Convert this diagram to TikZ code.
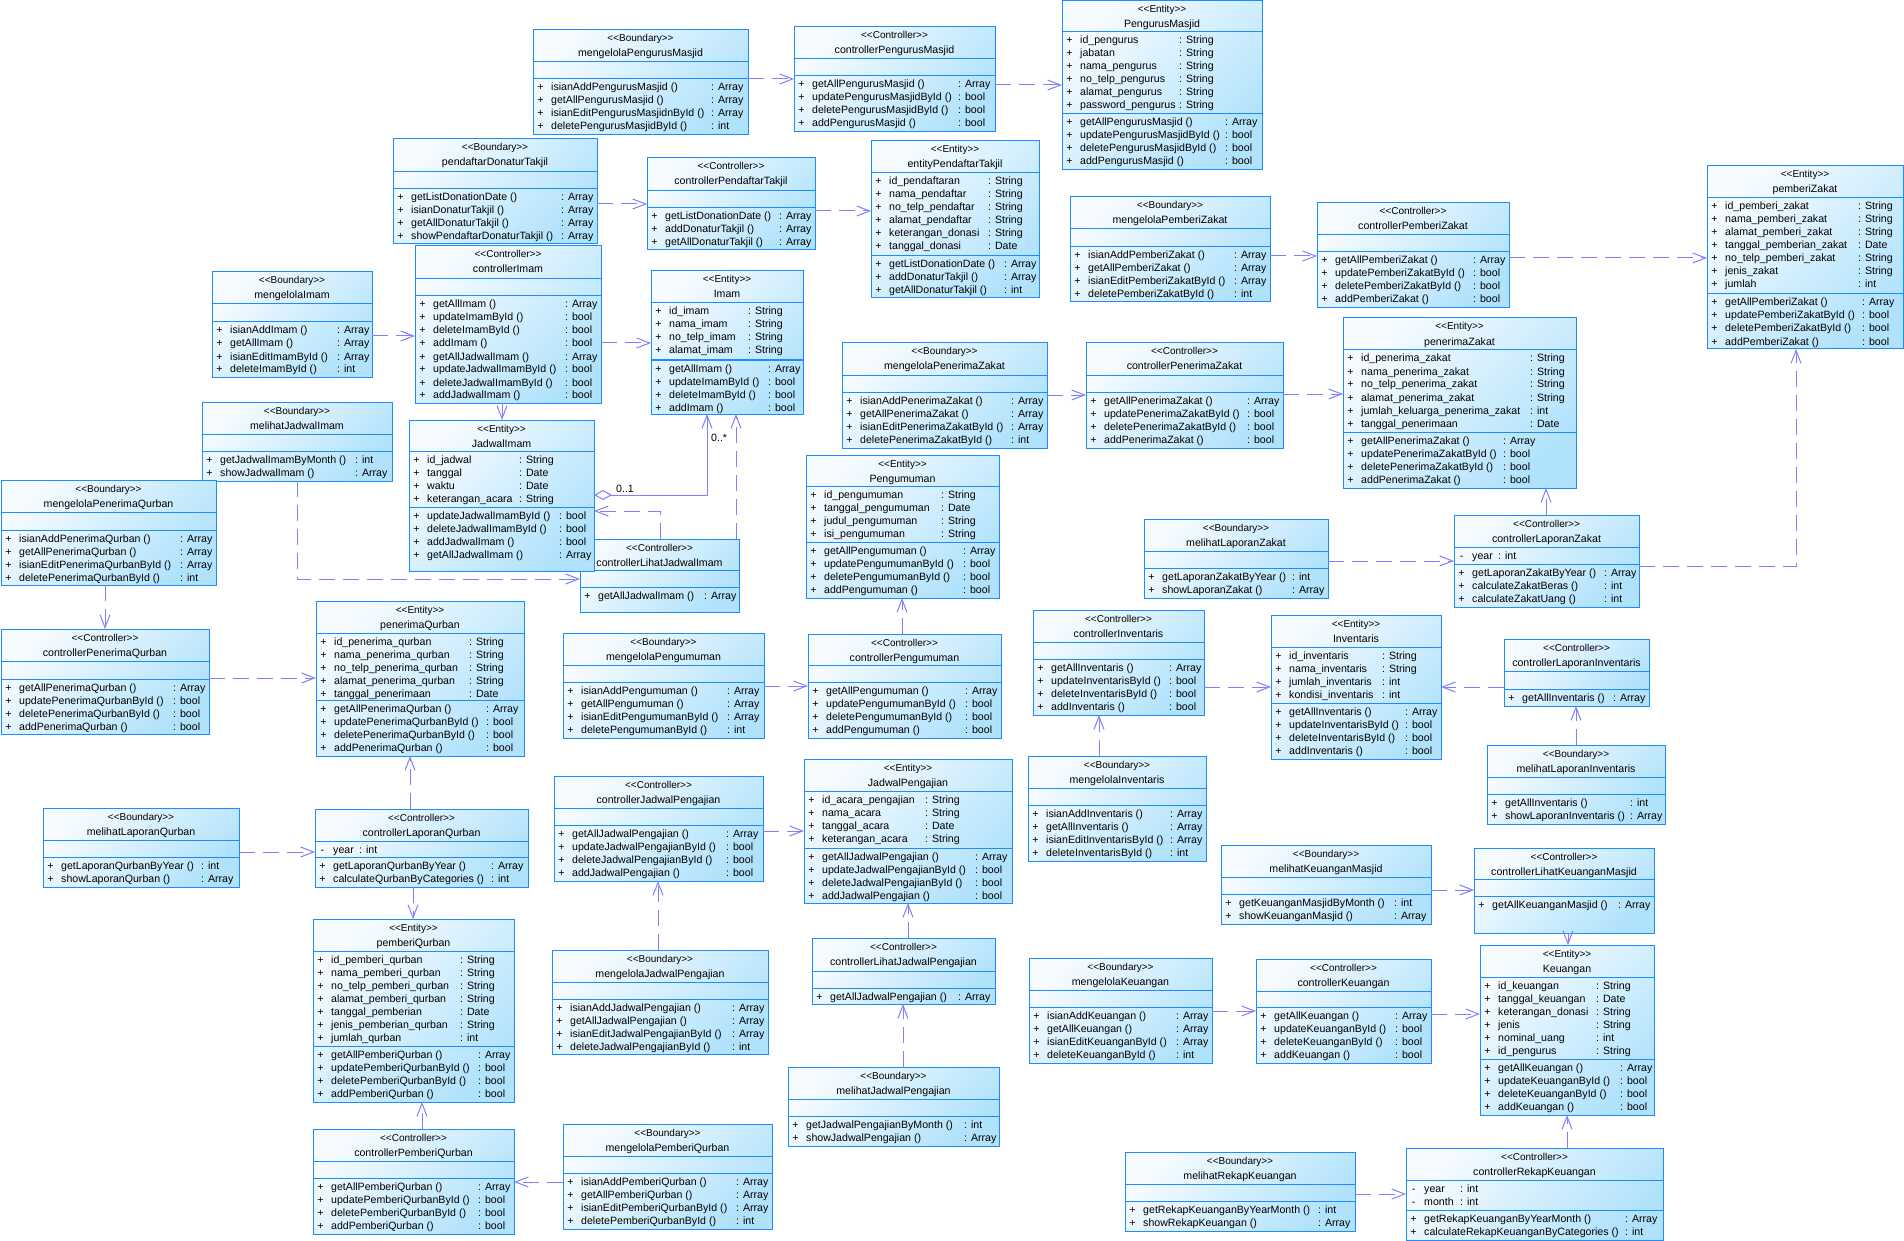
\documentclass[tikz,border=0pt]{standalone}
\usepackage{fontspec}
\setmainfont{Liberation Sans}
\usetikzlibrary{arrows.meta}
\definecolor{boxblue}{RGB}{28,140,255}
\definecolor{fillA}{RGB}{246,251,255}
\definecolor{fillB}{RGB}{176,226,252}
\definecolor{conn}{RGB}{128,128,255}
\tikzset{
 cls/.style={draw=boxblue, line width=1pt, top color=fillA, bottom color=fillB, shading angle=45, inner sep=0pt, outer sep=0pt},
 clssep/.style={draw=boxblue, line width=1pt},
 stereo/.style={font=\fontsize{10}{11}\selectfont, inner sep=0pt, anchor=base},
 cname/.style={font=\fontsize{10.6}{12}\selectfont, inner sep=0pt, anchor=base},
 mem/.style={font=\fontsize{10.6}{12}\selectfont, inner sep=0pt},
 dep/.style={draw=conn, line width=1pt, dash pattern=on 16pt off 8pt, -{Straight Barb[length=13pt,width=10pt]}},
 assoc/.style={draw=conn, line width=1pt, {Diamond[open,fill=white,length=18pt,width=10pt]}-{Straight Barb[length=13pt,width=10pt]}},
}
\newcommand\cbox[9]{%
 \node[cls, anchor=north west, minimum width={(#4)-(#2)}, minimum height={(#5)-(#3)}] (#1) at (#2,#3) {};
 \draw[clssep] (#2,#6) -- (#4,#6);
 \draw[clssep] (#2,#7) -- (#4,#7);
 \node[stereo] (#1-s) at ({((#2)+(#4))/2},{(#3)+12}) {<{}<#8>{}>};
 \node[cname] (#1-n) at ({((#2)+(#4))/2},{(#3)+27}) {#9};
}
\newcommand\rws[6][+]{%
 \foreach \nm/\ty [count=\i from 0] in {#6} {
   \node[mem, anchor=base] (#2\i v) at ({(#3)+7.5},{(#5)+12+13*\i}) {#1};
   \node[mem, anchor=base west] (#2\i n) at ({(#3)+18},{(#5)+12+13*\i}) {\nm};
   \node[mem, anchor=base west] (#2\i t) at (#4,{(#5)+12+13*\i}) {: \ty};
 }
}
\begin{document}
\catcode`\_=12
\begin{tikzpicture}[x=1pt,y=-1pt]
\fill[white] (0,0) rectangle (1904,1241);
\useasboundingbox (0,0) rectangle (1904,1241);

\cbox{bPM}{533}{30}{748}{135}{62}{79}{Boundary}{mengelolaPengurusMasjid}
\rws{bPMm}{533}{711}{79}{isianAddPengurusMasjid ()/Array, getAllPengurusMasjid ()/Array, isianEditPengurusMasjidnById ()/Array, deletePengurusMasjidById ()/int}

\cbox{cPM}{794}{27}{995}{132}{59}{76}{Controller}{controllerPengurusMasjid}
\rws{cPMm}{794}{958}{76}{getAllPengurusMasjid ()/Array, updatePengurusMasjidById ()/bool, deletePengurusMasjidById ()/bool, addPengurusMasjid ()/bool}

\cbox{ePM}{1062}{0.5}{1262}{170}{32}{114}{Entity}{PengurusMasjid}
\rws{ePMa}{1062}{1179}{32}{id_pengurus/String, jabatan/String, nama_pengurus/String, no_telp_pengurus/String, alamat_pengurus/String, password_pengurus/String}
\rws{ePMm}{1062}{1225}{114}{getAllPengurusMasjid ()/Array, updatePengurusMasjidById ()/bool, deletePengurusMasjidById ()/bool, addPengurusMasjid ()/bool}

\cbox{bPDT}{393}{139}{597}{244}{172}{189}{Boundary}{pendaftarDonaturTakjil}
\rws{bPDTm}{393}{561}{189}{getListDonationDate ()/Array, isianDonaturTakjil ()/Array, getAllDonaturTakjil ()/Array, showPendaftarDonaturTakjil ()/Array}

\cbox{cPT}{647}{158}{815}{250}{191}{208}{Controller}{controllerPendaftarTakjil}
\rws{cPTm}{647}{779}{208}{getListDonationDate ()/Array, addDonaturTakjil ()/Array, getAllDonaturTakjil ()/Array}

\cbox{ePT}{871}{141}{1039}{298}{173}{256}{Entity}{entityPendaftarTakjil}
\rws{ePTa}{871}{988}{173}{id_pendaftaran/String, nama_pendaftar/String, no_telp_pendaftar/String, alamat_pendaftar/String, keterangan_donasi/String, tanggal_donasi/Date}
\rws{ePTm}{871}{1004}{256}{getListDonationDate ()/Array, addDonaturTakjil ()/Array, getAllDonaturTakjil ()/int}

\cbox{bIm}{212}{272}{372}{377}{304}{322}{Boundary}{mengelolaImam}
\rws{bImm}{212}{337}{322}{isianAddImam ()/Array, getAllImam ()/Array, isianEditImamById ()/Array, deleteImamById ()/int}

\cbox{cIm}{415}{246}{601}{403}{279}{296}{Controller}{controllerImam}
\rws{cImm}{415}{565}{296}{getAllImam ()/Array, updateImamById ()/bool, deleteImamById ()/bool, addImam ()/bool, getAllJadwalImam ()/Array, updateJadwalImamById ()/bool, deleteJadwalImamById ()/bool, addJadwalImam ()/bool}

\cbox{eIm}{651}{271}{803}{414}{303}{360}{Entity}{Imam}
\rws{eIma}{651}{748}{303}{id_imam/String, nama_imam/String, no_telp_imam/String, alamat_imam/String}
\rws{eImm}{651}{768}{360}{getAllImam ()/Array, updateImamById ()/bool, deleteImamById ()/bool, addImam ()/bool}

\cbox{bLJI}{202}{402}{392}{481}{434}{451}{Boundary}{melihatJadwalImam}
\rws{bLJIm}{202}{355}{451}{getJadwalImamByMonth ()/int, showJadwalImam ()/Array}

\cbox{cLJI}{580}{539}{739}{612}{570}{587}{Controller}{controllerLihatJadwalImam}
\rws{cLJIm}{580}{704}{587}{getAllJadwalImam ()/Array}

\cbox{eJI}{409}{420}{594}{571}{451}{507}{Entity}{JadwalImam}
\rws{eJIa}{409}{519}{451}{id_jadwal/String, tanggal/Date, waktu/Date, keterangan_acara/String}
\rws{eJIm}{409}{559}{507}{updateJadwalImamById ()/bool, deleteJadwalImamById ()/bool, addJadwalImam ()/bool, getAllJadwalImam ()/Array}

\cbox{bPQ}{1}{480}{216}{585}{512}{530}{Boundary}{mengelolaPenerimaQurban}
\rws{bPQm}{1}{180}{530}{isianAddPenerimaQurban ()/Array, getAllPenerimaQurban ()/Array, isianEditPenerimaQurbanById ()/Array, deletePenerimaQurbanById ()/int}

\cbox{cPQ}{1}{629}{209}{734}{661}{679}{Controller}{controllerPenerimaQurban}
\rws{cPQm}{1}{173}{679}{getAllPenerimaQurban ()/Array, updatePenerimaQurbanById ()/bool, deletePenerimaQurbanById ()/bool, addPenerimaQurban ()/bool}

\cbox{ePQ}{316}{601}{524}{756}{633}{700}{Entity}{penerimaQurban}
\rws{ePQa}{316}{469}{633}{id_penerima_qurban/String, nama_penerima_qurban/String, no_telp_penerima_qurban/String, alamat_penerima_qurban/String, tanggal_penerimaan/Date}
\rws{ePQm}{316}{486}{700}{getAllPenerimaQurban ()/Array, updatePenerimaQurbanById ()/bool, deletePenerimaQurbanById ()/bool, addPenerimaQurban ()/bool}

\cbox{bLQ}{43}{808}{239}{887}{840}{857}{Boundary}{melihatLaporanQurban}
\rws{bLQm}{43}{201}{857}{getLaporanQurbanByYear ()/int, showLaporanQurban ()/Array}

\cbox{cLQ}{315}{809}{528}{887}{841}{857}{Controller}{controllerLaporanQurban}
\rws[-]{cLQa}{315}{359}{841}{year/int}
\rws{cLQm}{315}{491}{857}{getLaporanQurbanByYear ()/Array, calculateQurbanByCategories ()/int}

\cbox{eQ}{313}{919}{514}{1102}{951}{1046}{Entity}{pemberiQurban}
\rws{eQa}{313}{460}{951}{id_pemberi_qurban/String, nama_pemberi_qurban/String, no_telp_pemberi_qurban/String, alamat_pemberi_qurban/String, tanggal_pemberian/Date, jenis_pemberian_qurban/String, jumlah_qurban/int}
\rws{eQm}{313}{478}{1046}{getAllPemberiQurban ()/Array, updatePemberiQurbanById ()/bool, deletePemberiQurbanById ()/bool, addPemberiQurban ()/bool}

\cbox{cPmQ}{313}{1129}{514}{1234}{1161}{1178}{Controller}{controllerPemberiQurban}
\rws{cPmQm}{313}{478}{1178}{getAllPemberiQurban ()/Array, updatePemberiQurbanById ()/bool, deletePemberiQurbanById ()/bool, addPemberiQurban ()/bool}

\cbox{bPmQ}{563}{1124}{772}{1229}{1156}{1173}{Boundary}{mengelolaPemberiQurban}
\rws{bPmQm}{563}{736}{1173}{isianAddPemberiQurban ()/Array, getAllPemberiQurban ()/Array, isianEditPemberiQurbanById ()/Array, deletePemberiQurbanById ()/int}

\cbox{bPg}{563}{633}{764}{738}{665}{682}{Boundary}{mengelolaPengumuman}
\rws{bPgm}{563}{727}{682}{isianAddPengumuman ()/Array, getAllPengumuman ()/Array, isianEditPengumumanById ()/Array, deletePengumumanById ()/int}

\cbox{cPg}{808}{634}{1001}{738}{665}{682}{Controller}{controllerPengumuman}
\rws{cPgm}{808}{965}{682}{getAllPengumuman ()/Array, updatePengumumanById ()/bool, deletePengumumanById ()/bool, addPengumuman ()/bool}

\cbox{ePg}{806}{455}{999}{598}{486}{542}{Entity}{Pengumuman}
\rws{ePga}{806}{941}{486}{id_pengumuman/String, tanggal_pengumuman/Date, judul_pengumuman/String, isi_pengumuman/String}
\rws{ePgm}{806}{963}{542}{getAllPengumuman ()/Array, updatePengumumanById ()/bool, deletePengumumanById ()/bool, addPengumuman ()/bool}

\cbox{cJP}{554}{776}{763}{881}{808}{825}{Controller}{controllerJadwalPengajian}
\rws{cJPm}{554}{726}{825}{getAllJadwalPengajian ()/Array, updateJadwalPengajianById ()/bool, deleteJadwalPengajianById ()/bool, addJadwalPengajian ()/bool}

\cbox{eJP}{804}{759}{1012}{903}{791}{848}{Entity}{JadwalPengajian}
\rws{eJPa}{804}{925}{791}{id_acara_pengajian/String, nama_acara/String, tanggal_acara/Date, keterangan_acara/String}
\rws{eJPm}{804}{975}{848}{getAllJadwalPengajian ()/Array, updateJadwalPengajianById ()/bool, deleteJadwalPengajianById ()/bool, addJadwalPengajian ()/bool}

\cbox{cLJP}{812}{938}{995}{1004}{971}{988}{Controller}{controllerLihatJadwalPengajian}
\rws{cLJPm}{812}{958}{988}{getAllJadwalPengajian ()/Array}

\cbox{bLJP}{788}{1067}{999}{1146}{1099}{1116}{Boundary}{melihatJadwalPengajian}
\rws{bLJPm}{788}{964}{1116}{getJadwalPengajianByMonth ()/int, showJadwalPengajian ()/Array}

\cbox{bJP}{552}{950}{768}{1054}{982}{999}{Boundary}{mengelolaJadwalPengajian}
\rws{bJPm}{552}{732}{999}{isianAddJadwalPengajian ()/Array, getAllJadwalPengajian ()/Array, isianEditJadwalPengajianById ()/Array, deleteJadwalPengajianById ()/int}

\cbox{bPZ}{842}{343}{1047}{448}{375}{392}{Boundary}{mengelolaPenerimaZakat}
\rws{bPZm}{842}{1011}{392}{isianAddPenerimaZakat ()/Array, getAllPenerimaZakat ()/Array, isianEditPenerimaZakatById ()/Array, deletePenerimaZakatById ()/int}

\cbox{cPZ}{1086}{343}{1283}{448}{375}{392}{Controller}{controllerPenerimaZakat}
\rws{cPZm}{1086}{1247}{392}{getAllPenerimaZakat ()/Array, updatePenerimaZakatById ()/bool, deletePenerimaZakatById ()/bool, addPenerimaZakat ()/bool}

\cbox{ePZ}{1343}{318}{1576}{488}{350}{432}{Entity}{penerimaZakat}
\rws{ePZa}{1343}{1530}{350}{id_penerima_zakat/String, nama_penerima_zakat/String, no_telp_penerima_zakat/String, alamat_penerima_zakat/String, jumlah_keluarga_penerima_zakat/int, tanggal_penerimaan/Date}
\rws{ePZm}{1343}{1503}{432}{getAllPenerimaZakat ()/Array, updatePenerimaZakatById ()/bool, deletePenerimaZakatById ()/bool, addPenerimaZakat ()/bool}

\cbox{bPmZ}{1070}{197}{1270}{302}{229}{247}{Boundary}{mengelolaPemberiZakat}
\rws{bPmZm}{1070}{1234}{247}{isianAddPemberiZakat ()/Array, getAllPemberiZakat ()/Array, isianEditPemberiZakatById ()/Array, deletePemberiZakatById ()/int}

\cbox{cPmZ}{1317}{203}{1509}{308}{235}{252}{Controller}{controllerPemberiZakat}
\rws{cPmZm}{1317}{1473}{252}{getAllPemberiZakat ()/Array, updatePemberiZakatById ()/bool, deletePemberiZakatById ()/bool, addPemberiZakat ()/bool}

\cbox{ePmZ}{1707}{166}{1903}{349}{198}{294}{Entity}{pemberiZakat}
\rws{ePmZa}{1707}{1858}{198}{id_pemberi_zakat/String, nama_pemberi_zakat/String, alamat_pemberi_zakat/String, tanggal_pemberian_zakat/Date, no_telp_pemberi_zakat/String, jenis_zakat/String, jumlah/int}
\rws{ePmZm}{1707}{1862}{294}{getAllPemberiZakat ()/Array, updatePemberiZakatById ()/bool, deletePemberiZakatById ()/bool, addPemberiZakat ()/bool}

\cbox{bLZ}{1144}{519}{1328}{598}{551}{568}{Boundary}{melihatLaporanZakat}
\rws{bLZm}{1144}{1292}{568}{getLaporanZakatByYear ()/int, showLaporanZakat ()/Array}

\cbox{cLZ}{1454}{515}{1639}{607}{547}{564}{Controller}{controllerLaporanZakat}
\rws[-]{cLZa}{1454}{1498}{547}{year/int}
\rws{cLZm}{1454}{1604}{564}{getLaporanZakatByYear ()/Array, calculateZakatBeras ()/int, calculateZakatUang ()/int}

\cbox{cInv}{1033}{610}{1204}{715}{642}{659}{Controller}{controllerInventaris}
\rws{cInvm}{1033}{1169}{659}{getAllInventaris ()/Array, updateInventarisById ()/bool, deleteInventarisById ()/bool, addInventaris ()/bool}

\cbox{eInv}{1271}{615}{1441}{759}{647}{703}{Entity}{Inventaris}
\rws{eInva}{1271}{1382}{647}{id_inventaris/String, nama_inventaris/String, jumlah_inventaris/int, kondisi_inventaris/int}
\rws{eInvm}{1271}{1405}{703}{getAllInventaris ()/Array, updateInventarisById ()/bool, deleteInventarisById ()/bool, addInventaris ()/bool}

\cbox{cLInv}{1504}{639}{1649}{706}{671}{689}{Controller}{controllerLaporanInventaris}
\rws{cLInvm}{1504}{1613}{689}{getAllInventaris ()/Array}

\cbox{bLInv}{1487}{745}{1665}{824}{777}{794}{Boundary}{melihatLaporanInventaris}
\rws{bLInvm}{1487}{1630}{794}{getAllInventaris ()/int, showLaporanInventaris ()/Array}

\cbox{bInv}{1028}{756}{1206}{861}{788}{805}{Boundary}{mengelolaInventaris}
\rws{bInvm}{1028}{1170}{805}{isianAddInventaris ()/Array, getAllInventaris ()/Array, isianEditInventarisById ()/Array, deleteInventarisById ()/int}

\cbox{bLKM}{1221}{845}{1431}{924}{877}{894}{Boundary}{melihatKeuanganMasjid}
\rws{bLKMm}{1221}{1394}{894}{getKeuanganMasjidByMonth ()/int, showKeuanganMasjid ()/Array}

\cbox{cLKM}{1474}{848}{1654}{933}{879}{896}{Controller}{controllerLihatKeuanganMasjid}
\rws{cLKMm}{1474}{1618}{896}{getAllKeuanganMasjid ()/Array}

\cbox{eK}{1480}{945}{1654}{1115}{977}{1059}{Entity}{Keuangan}
\rws{eKa}{1480}{1596}{977}{id_keuangan/String, tanggal_keuangan/Date, keterangan_donasi/String, jenis/String, nominal_uang/int, id_pengurus/String}
\rws{eKm}{1480}{1620}{1059}{getAllKeuangan ()/Array, updateKeuanganById ()/bool, deleteKeuanganById ()/bool, addKeuangan ()/bool}

\cbox{bK}{1029}{958}{1212}{1063}{990}{1007}{Boundary}{mengelolaKeuangan}
\rws{bKm}{1029}{1176}{1007}{isianAddKeuangan ()/Array, getAllKeuangan ()/Array, isianEditKeuanganById ()/Array, deleteKeuanganById ()/int}

\cbox{cK}{1256}{959}{1431}{1063}{991}{1007}{Controller}{controllerKeuangan}
\rws{cKm}{1256}{1395}{1007}{getAllKeuangan ()/Array, updateKeuanganById ()/bool, deleteKeuanganById ()/bool, addKeuangan ()/bool}

\cbox{bRK}{1125}{1152}{1355}{1231}{1184}{1201}{Boundary}{melihatRekapKeuangan}
\rws{bRKm}{1125}{1318}{1201}{getRekapKeuanganByYearMonth ()/int, showRekapKeuangan ()/Array}

\cbox{cRK}{1406}{1148}{1663}{1240}{1180}{1210}{Controller}{controllerRekapKeuangan}
\rws[-]{cRKa}{1406}{1460}{1180}{year/int, month/int}
\rws{cRKm}{1406}{1625}{1210}{getRekapKeuanganByYearMonth ()/Array, calculateRekapKeuanganByCategories ()/int}

% connectors
\draw[dep] (bPM.east |- 0,79) -- (cPM.west |- 0,79);
\draw[dep] (cPM.east |- 0,85) -- (ePM.west |- 0,85);
\draw[dep] (bPDT.east |- 0,204) -- (cPT.west |- 0,204);
\draw[dep] (cPT.east |- 0,211) -- (ePT.west |- 0,211);
\draw[dep] (bIm.east |- 0,336) -- (cIm.west |- 0,336);
\draw[dep] (cIm.east |- 0,343) -- (eIm.west |- 0,343);
\draw[dep] (cIm.south -| 502,0) -- (eJI.north -| 502,0);
\draw[dep] (bLJI.south -| 297,0) |- (cLJI.west |- 0,579);
\draw[dep] (cLJI.north -| 660,0) |- (eJI.east |- 0,511);
\draw[dep] (cLJI.north -| 736,0) -- (eIm.south -| 736,0);
\draw[assoc] (eJI.east |- 0,495) -| (eIm.south -| 707,0);
\node[mem, anchor=base west] (m01) at (616,492) {0..1};
\node[mem, anchor=base west] (m0s) at (711,441) {0..*};
\draw[dep] (bPQ.south -| 105,0) -- (cPQ.north -| 105,0);
\draw[dep] (cPQ.east |- 0,678) -- (ePQ.west |- 0,678);
\draw[dep] (cLQ.north -| 410,0) -- (ePQ.south -| 410,0);
\draw[dep] (bLQ.east |- 0,852) -- (cLQ.west |- 0,852);
\draw[dep] (cLQ.south -| 413,0) -- (eQ.north -| 413,0);
\draw[dep] (cPmQ.north -| 422,0) -- (eQ.south -| 422,0);
\draw[dep] (bPmQ.west |- 0,1182) -- (cPmQ.east |- 0,1182);
\draw[dep] (bPg.east |- 0,686) -- (cPg.west |- 0,686);
\draw[dep] (cPg.north -| 902,0) -- (ePg.south -| 902,0);
\draw[dep] (cJP.east |- 0,831) -- (eJP.west |- 0,831);
\draw[dep] (bJP.north -| 658,0) -- (cJP.south -| 658,0);
\draw[dep] (cLJP.north -| 908,0) -- (eJP.south -| 908,0);
\draw[dep] (bLJP.north -| 903,0) -- (cLJP.south -| 903,0);
\draw[dep] (bPZ.east |- 0,395) -- (cPZ.west |- 0,395);
\draw[dep] (cPZ.east |- 0,394) -- (ePZ.west |- 0,394);
\draw[dep] (bPmZ.east |- 0,256) -- (cPmZ.west |- 0,256);
\draw[dep] (cPmZ.east |- 0,258) -- (ePmZ.west |- 0,258);
\draw[dep] (bLZ.east |- 0,561) -- (cLZ.west |- 0,561);
\draw[dep] (cLZ.north -| 1546,0) -- (ePZ.south -| 1546,0);
\draw[dep] (cLZ.east |- 0,566) -| (ePmZ.south -| 1796,0);
\draw[dep] (cInv.east |- 0,687) -- (eInv.west |- 0,687);
\draw[dep] (bInv.north -| 1099,0) -- (cInv.south -| 1099,0);
\draw[dep] (cLInv.west |- 0,687) -- (eInv.east |- 0,687);
\draw[dep] (bLInv.north -| 1576,0) -- (cLInv.south -| 1576,0);
\draw[dep] (bLKM.east |- 0,890) -- (cLKM.west |- 0,890);
\draw[dep] (cLKM.south -| 1568,0) -- (eK.north -| 1568,0);
\draw[dep] (bK.east |- 0,1011) -- (cK.west |- 0,1011);
\draw[dep] (cK.east |- 0,1014) -- (eK.west |- 0,1014);
\draw[dep] (bRK.east |- 0,1194) -- (cRK.west |- 0,1194);
\draw[dep] (cRK.north -| 1567,0) -- (eK.south -| 1567,0);
\end{tikzpicture}
\end{document}
